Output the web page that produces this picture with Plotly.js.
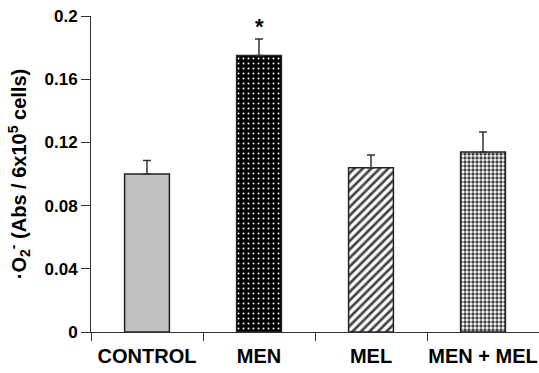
<!DOCTYPE html>
<html><head><meta charset="utf-8">
<script src="https://cdn.plot.ly/plotly-3.0.1.min.js"></script>
<style>html,body{margin:0;padding:0;background:#fff}#c{width:539px;height:373px}</style>
</head><body><div id="c"></div>
<script>
const categories = ["CONTROL", "MEN", "MEL", "MEN + MEL"];
const values = [0.100, 0.175, 0.104, 0.114];
const errors = [0.0085, 0.0105, 0.008, 0.0126];
const yTicks = [0, 0.04, 0.08, 0.12, 0.16, 0.2];
const yTickLabels = ["0", "0.04", "0.08", "0.12", "0.16", "0.2"];

const fills = ["#c0c0c0", "#000000", "#ffffff", "#ffffff"];
const patterns = [
  {shape: ""},
  {shape: ".", bgcolor: "#000000", fgcolor: "#ffffff", size: 5, solidity: 0.12},
  {shape: "/", bgcolor: "#ffffff", fgcolor: "#000000", size: 6, solidity: 0.45},
  {shape: ".", bgcolor: "#ffffff", fgcolor: "#000000", size: 4, solidity: 0.55}
];

const trace = {
  type: "bar",
  x: categories,
  y: values,
  width: 0.4,
  marker: {
    color: fills,
    line: {color: "#222222", width: 1.5},
    pattern: {
      shape: patterns.map(p => p.shape),
      bgcolor: patterns.map((p, i) => p.bgcolor || fills[i]),
      fgcolor: patterns.map(p => p.fgcolor || "#000"),
      size: patterns.map(p => p.size || 8),
      solidity: patterns.map(p => p.solidity || 0.3),
      fgopacity: 1,
      fillmode: "overlay"
    }
  },
  error_y: {type: "data", symmetric: false, array: errors, arrayminus: errors.map(() => 0),
            color: "#333333", thickness: 1.5, width: 4},
  hoverinfo: "none"
};

const layout = {
  width: 539, height: 373,
  margin: {l: 91, r: 0, t: 16, b: 41},
  paper_bgcolor: "#fff", plot_bgcolor: "#fff",
  showlegend: false,
  font: {family: "Liberation Sans, Arial, sans-serif", color: "#000"},
  xaxis: {
    type: "category", range: [-0.5, 3.5],
    tickson: "boundaries", ticks: "outside", ticklen: 8, tickwidth: 1, tickcolor: "#333",
    tickangle: 0, ticklabelstandoff: 6,
    showline: true, linecolor: "#333", linewidth: 1,
    showgrid: false, zeroline: false,
    tickfont: {size: 20, weight: "bold"},
    fixedrange: true
  },
  yaxis: {
    range: [0, 0.2], tickvals: yTicks, ticktext: yTickLabels,
    ticks: "outside", ticklen: 9, tickwidth: 1, tickcolor: "#333",
    showline: true, linecolor: "#333", linewidth: 1,
    showgrid: false, zeroline: false,
    tickfont: {size: 17, weight: "bold"},
    title: {text: "·O<sub>2</sub><sup>-</sup> (Abs / 6x10<sup>5</sup> cells)", font: {size: 20, weight: "bold"}, standoff: 12},
    fixedrange: true
  },
  annotations: [{
    x: "MEN", y: values[1] + errors[1], yref: "y", xref: "x",
    text: "*", showarrow: false, yshift: -2, yanchor: "bottom",
    font: {size: 22, weight: "bold"}
  }]
};

Plotly.newPlot("c", [trace], layout, {displayModeBar: false, staticPlot: true});
</script></body></html>
